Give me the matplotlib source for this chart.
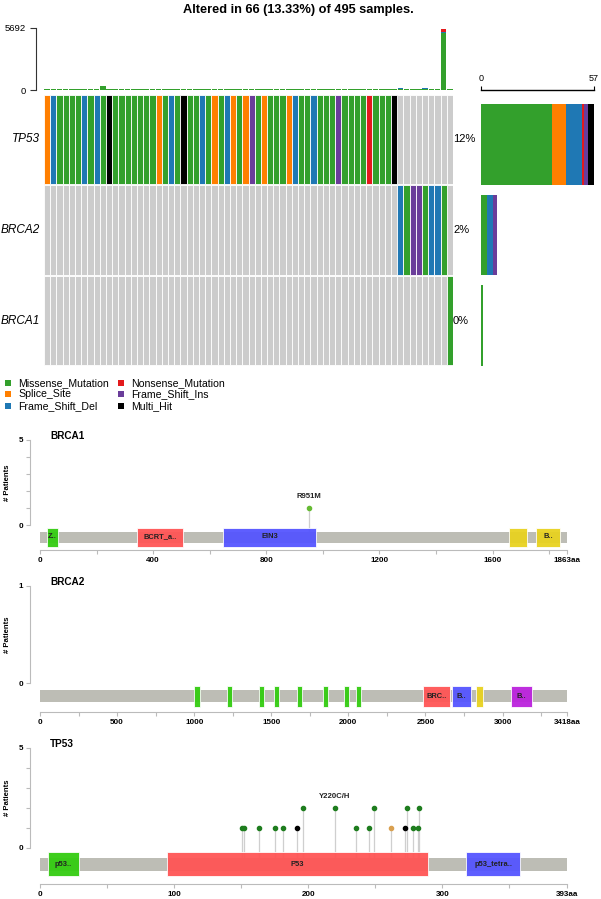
import matplotlib
matplotlib.use('Agg')
import matplotlib.pyplot as plt
from matplotlib.patches import Rectangle

plt.rcParams['font.family'] = ['Liberation Sans', 'DejaVu Sans']

W, H = 601, 899

# ---------------- data ----------------
title = "Altered in 66 (13.33%) of 495 samples."
mut_types = ['Missense_Mutation', 'Splice_Site', 'Frame_Shift_Del',
             'Nonsense_Mutation', 'Frame_Shift_Ins', 'Multi_Hit']
mut_codes = ['M', 'S', 'D', 'N', 'I', 'H']
mut_colors = ['#33A02C', '#FF7F00', '#1F78B4', '#E31A1C', '#6A3D9A', '#000000']

genes = ['TP53', 'BRCA2', 'BRCA1']
gene_pct = ['12%', '2%', '0%']
n_samples = 66
side_max = 57

tp53_calls = list("SDMMMMDMDMH" "MMMMMMM" "SMDMH" "MMDMSMDSMSI" "MSMMMSDMMDMMMI" "MMMMNMMMH")
brca2_calls = list("DMIIMDDM")
brca1_calls = list("M")
tp53_samples = list(range(0, 57))
brca2_samples = list(range(57, 65))
brca1_samples = [65]

# top TMB bars (per sample, stacked)
tmb_missense = [70, 60, 65, 60, 55, 70, 65, 70, 75, 330, 60, 55, 60, 65, 60, 65, 70,
                60, 55, 65, 60, 100, 60, 65, 60, 70, 65, 60, 65, 70, 60, 65, 60, 70,
                65, 60, 70, 65, 60, 65, 70, 60, 65, 60, 70, 60, 65, 70, 65, 60, 70,
                65, 60, 65, 70, 85, 60, 120, 70, 65, 100, 130, 80, 70, 5250, 80]
tmb_nonsense = [20, 15, 25, 15, 20, 15, 20, 15, 20, 20, 15, 20, 15, 15, 20, 15, 15,
                20, 15, 15, 20, 15, 15, 20, 15, 15, 20, 15, 15, 20, 15, 15, 20, 15,
                15, 20, 15, 15, 20, 15, 15, 20, 15, 15, 20, 15, 15, 20, 15, 15, 20,
                15, 15, 20, 15, 15, 20, 20, 15, 15, 20, 20, 15, 15, 330, 20]
tmb_fs = [15, 20, 15, 20, 15, 20, 15, 20, 15, 25, 15, 20, 15, 20, 15, 20, 15,
          15, 20, 15, 15, 20, 15, 15, 20, 15, 15, 20, 15, 15, 20, 15, 15, 20,
          15, 15, 20, 15, 15, 20, 15, 15, 20, 15, 15, 20, 15, 15, 20, 15, 15,
          20, 15, 15, 20, 15, 15, 20, 15, 20, 15, 20, 15, 20, 60, 15]
tmb_max = 5692

# lollipop data
dom_green, dom_red, dom_blue, dom_yellow, dom_purple = '#33CC11', '#FF5555', '#5555FF', '#E8D220', '#BB22DD'

brca1_len = 1863
brca1_dom_names = ['Z..', 'BCRT_a..', 'EIN3', '', 'B..']
brca1_dom_start = [24, 342, 646, 1659, 1754]
brca1_dom_end = [65, 506, 977, 1721, 1840]
brca1_dom_col = [dom_green, dom_red, dom_blue, dom_yellow, dom_yellow]
brca1_pos = [951]
brca1_cnt = [1]
brca1_cls = ['M']
brca1_lab = {951: 'R951M'}

brca2_len = 3418
brca2_dom_names = ['', '', '', '', '', '', '', '', 'BRC..', 'B..', '', 'B..']
brca2_dom_start = [1002, 1212, 1421, 1517, 1664, 1837, 1971, 2051, 2481, 2671, 2831, 3053]
brca2_dom_end = [1036, 1246, 1455, 1551, 1698, 1871, 2005, 2085, 2661, 2796, 2871, 3191]
brca2_dom_col = [dom_green] * 8 + [dom_red, dom_blue, dom_yellow, dom_purple]
brca2_pos, brca2_cnt, brca2_cls = [], [], []

tp53_len = 393
tp53_dom_names = ['p53..', 'P53', 'p53_tetra..']
tp53_dom_start = [6, 95, 318]
tp53_dom_end = [29, 289, 358]
tp53_dom_col = [dom_green, dom_red, dom_blue]
tp53_pos = [151, 152, 163, 175, 181, 192, 196, 220, 236, 245, 249, 262, 272, 274, 278, 282, 283]
tp53_cnt = [1, 1, 1, 1, 1, 1, 2, 2, 1, 1, 2, 1, 1, 2, 1, 1, 2]
tp53_cls = ['M', 'M', 'M', 'M', 'M', 'H', 'M', 'M', 'M', 'M', 'M', 'S', 'H', 'M', 'M', 'M', 'M']
tp53_lab = {220: 'Y220C/H'}

# ---------------- figure ----------------
fig = plt.figure(figsize=(W / 100, H / 100), dpi=100)


def ax_px(x0, y0, x1, y1):
    return fig.add_axes([x0 / W, 1 - y1 / H, (x1 - x0) / W, (y1 - y0) / H])


col_of = dict(zip(mut_codes, mut_colors))

fig.text(298 / W, 1 - 10 / H, title, ha='center', va='center', fontsize=9.2, fontweight='bold')

# top TMB bars
axt = ax_px(44, 28, 453, 90)
axt.set_xlim(0, n_samples)
axt.set_ylim(0, tmb_max)
xs = [i + 0.5 for i in range(n_samples)]
axt.bar(xs, tmb_missense, width=0.9, color=mut_colors[0], linewidth=0)
axt.bar(xs, tmb_fs, bottom=tmb_missense, width=0.9, color=mut_colors[2], linewidth=0)
bot2 = [a + b for a, b in zip(tmb_missense, tmb_fs)]
axt.bar(xs, tmb_nonsense, bottom=bot2, width=0.9, color=mut_colors[3], linewidth=0)
for s in ['top', 'right', 'bottom']:
    axt.spines[s].set_visible(False)
axt.spines['left'].set_position(('outward', 6))
axt.spines['left'].set_color('#333333')
axt.set_xticks([])
axt.set_yticks([0, tmb_max])
axt.set_yticklabels(['0', str(tmb_max)])
axt.tick_params(axis='y', labelsize=6.8, length=4, width=0.8, pad=3, color='#333333')

# oncoprint
axo = ax_px(44, 94, 453, 366)
axo.set_xlim(0, n_samples)
axo.set_ylim(3, 0)
all_calls = [tp53_calls, brca2_calls, brca1_calls]
all_samples = [tp53_samples, brca2_samples, brca1_samples]
for r in range(3):
    axo.bar(range(n_samples), [0.985] * n_samples, bottom=r + 0.0075, width=1, align='edge',
            color='#CCCCCC', edgecolor='white', linewidth=0.6)
    cols = [col_of[c] for c in all_calls[r]]
    axo.bar(all_samples[r], [0.985] * len(cols), bottom=r + 0.0075, width=1, align='edge',
            color=cols, edgecolor='white', linewidth=0.6)
    fig.text(40 / W, 1 - (94 + 90.7 * (r + 0.5)) / H, genes[r], ha='right', va='center',
             fontsize=8.5, fontstyle='italic')
    fig.text(453 / W, 1 - (94 + 90.7 * (r + 0.5)) / H, gene_pct[r], ha='left', va='center',
             fontsize=8)
axo.axis('off')

# side bars
axs = ax_px(481, 94, 594, 366)
axs.set_xlim(0, side_max)
axs.set_ylim(3, 0)
for r in range(3):
    left = 0
    for code, colr in zip(mut_codes, mut_colors):
        n = all_calls[r].count(code)
        if n:
            axs.barh(r + 0.555, n, left=left, height=0.89, color=colr, linewidth=0)
            left += n
for s in ['bottom', 'right', 'left']:
    axs.spines[s].set_visible(False)
axs.spines['top'].set_position(('outward', 3))
axs.spines['top'].set_linewidth(1.0)
axs.xaxis.tick_top()
axs.set_xticks([0, side_max])
axs.set_yticks([])
axs.tick_params(axis='x', labelsize=6.5, length=3, width=0.8, pad=2)

# legend
axl = ax_px(0, 372, 300, 412)
axl.set_xlim(0, 300)
axl.set_ylim(412, 372)
axl.axis('off')
leg_x = [8, 8, 8, 121, 121, 121]
leg_y = [383, 394, 406, 383, 394, 406]
for t, c, lx, ly in zip(mut_types, mut_colors, leg_x, leg_y):
    axl.scatter([lx], [ly], marker='s', s=14, color=c, linewidths=0)
    axl.text(lx + 10, ly, t, va='center', ha='left', fontsize=7.6)


def lolli_panel(L, name, y_top, y_zero, ymax, bar_c, bar_h, dom_h, y_axis,
                dnames, dstart, dend, dcol, pos, cnt, cls, labs,
                major, major_lab, minor, head_green):
    ax = ax_px(40, y_top, 567, y_axis)
    ppu = (y_zero - y_top) / ymax
    ax.set_xlim(0, L)
    ax.set_ylim(-(y_axis - y_zero) / ppu, ymax)
    bc = -(bar_c - y_zero) / ppu
    bh = bar_h / ppu
    dh = dom_h / ppu
    ax.add_patch(Rectangle((0, bc - bh / 2), L, bh, color='#BDBDB5', zorder=2, linewidth=0))
    for nm, s, e, c in zip(dnames, dstart, dend, dcol):
        ax.add_patch(Rectangle((s, bc - dh / 2), e - s, dh, facecolor=c, edgecolor='#ffffff',
                               linewidth=0.6, alpha=0.95, zorder=3))
        if nm:
            ax.text((s + e) / 2, bc, nm, ha='center', va='center', fontsize=5.4,
                    fontweight='bold', color='#222222', zorder=5)
    for p, n, k in zip(pos, cnt, cls):
        ax.plot([p, p], [bc, n], color='#CFCFCF', linewidth=0.9, zorder=1)
        hc = head_green if k == 'M' else col_of[k]
        if k == 'S':
            hc = '#D9A050'
        ax.plot([p], [n], 'o', ms=3.0, color=hc, markeredgecolor=hc, zorder=6)
        if p in labs:
            ax.text(p, n + 8 / ppu, labs[p], ha='center', va='bottom', fontsize=5.6,
                    fontweight='bold', color='#222222')
    for s in ['top', 'right']:
        ax.spines[s].set_visible(False)
    ax.spines['left'].set_position(('outward', 7))
    ax.spines['left'].set_bounds(0, ymax)
    ax.spines['left'].set_color('#BBBBBB')
    ax.spines['bottom'].set_bounds(0, L)
    ax.spines['bottom'].set_color('#BBBBBB')
    ax.set_yticks(list(range(0, ymax + 1)))
    ax.set_yticklabels([str(v) if v in (0, ymax) else '' for v in range(0, ymax + 1)])
    ax.set_xticks(major)
    ax.set_xticklabels(major_lab)
    ax.set_xticks(minor, minor=True)
    ax.tick_params(axis='both', which='both', color='#BBBBBB', length=3, width=0.8,
                   labelsize=5.8, pad=2)
    for lbl in ax.get_xticklabels() + ax.get_yticklabels():
        lbl.set_fontweight('bold')
    fig.text(50 / W, 1 - (y_top - 4) / H, name, fontsize=7.2, fontweight='bold', va='center', ha='left')
    fig.text(8 / W, 1 - ((y_top + y_zero) / 2) / H, '# Patients', rotation=90, fontsize=5.6,
             fontweight='bold', ha='center', va='center')
    return ax


lolli_panel(brca1_len, 'BRCA1', 440, 525, 5, 537, 11, 19, 550,
            brca1_dom_names, brca1_dom_start, brca1_dom_end, brca1_dom_col,
            brca1_pos, brca1_cnt, brca1_cls, brca1_lab,
            [0, 400, 800, 1200, 1600, brca1_len], ['0', '400', '800', '1200', '1600', '1863aa'],
            [200, 600, 1000, 1400, 1800], '#66BB33')

lolli_panel(brca2_len, 'BRCA2', 586, 683, 1, 696, 12, 21, 712,
            brca2_dom_names, brca2_dom_start, brca2_dom_end, brca2_dom_col,
            brca2_pos, brca2_cnt, brca2_cls, {},
            [0, 500, 1000, 1500, 2000, 2500, 3000, brca2_len],
            ['0', '500', '1000', '1500', '2000', '2500', '3000', '3418aa'],
            [250, 750, 1250, 1750, 2250, 2750, 3250], '#66BB33')

lolli_panel(tp53_len, 'TP53', 748, 848, 5, 864, 13, 24, 884,
            tp53_dom_names, tp53_dom_start, tp53_dom_end, tp53_dom_col,
            tp53_pos, tp53_cnt, tp53_cls, tp53_lab,
            [0, 100, 200, 300, tp53_len], ['0', '100', '200', '300', '393aa'],
            [50, 150, 250, 350], '#1E7D1E')

fig.savefig('out.png', dpi=100)
